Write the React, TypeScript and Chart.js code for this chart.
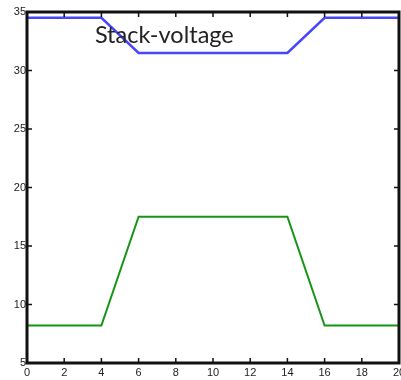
import React, { useEffect, useRef } from "react";
import { Chart, registerables } from "chart.js";

Chart.register(...registerables);

const xValues = [0, 4, 6, 14, 16, 20];
const stackVoltage = [34.5, 34.5, 31.5, 31.5, 34.5, 34.5];
const otherSeries = [8.2, 8.2, 17.5, 17.5, 8.2, 8.2];
const xTicks = [0, 2, 4, 6, 8, 10, 12, 14, 16, 18, 20];
const yTicks = [5, 10, 15, 20, 25, 30, 35];
const annotationText = "Stack-voltage";

const framePlugin = {
  id: "frame",
  afterDraw(chart: any) {
    const { ctx, chartArea: a, scales } = chart;
    ctx.save();
    ctx.strokeStyle = "#111";
    ctx.lineWidth = 1.5;
    const tl = 5;
    scales.x.ticks.forEach((t: any) => {
      const px = scales.x.getPixelForValue(t.value);
      ctx.beginPath();
      ctx.moveTo(px, a.bottom);
      ctx.lineTo(px, a.bottom - tl);
      ctx.moveTo(px, a.top);
      ctx.lineTo(px, a.top + tl);
      ctx.stroke();
    });
    scales.y.ticks.forEach((t: any) => {
      const py = scales.y.getPixelForValue(t.value);
      ctx.beginPath();
      ctx.moveTo(a.left, py);
      ctx.lineTo(a.left + tl, py);
      ctx.moveTo(a.right, py);
      ctx.lineTo(a.right - tl, py);
      ctx.stroke();
    });
    ctx.lineWidth = 3;
    ctx.strokeStyle = "#111";
    ctx.strokeRect(a.left, a.top, a.right - a.left, a.bottom - a.top);
    ctx.fillStyle = "#222";
    ctx.font = "23.5px Lato";
    ctx.textBaseline = "alphabetic";
    ctx.textAlign = "left";
    ctx.fillText(annotationText, scales.x.getPixelForValue(3.65), scales.y.getPixelForValue(32.35));
    ctx.restore();
  },
};

export default function App() {
  const ref = useRef<HTMLCanvasElement>(null);
  useEffect(() => {
    document.body.style.margin = "0";
    const chart = new Chart(ref.current!, {
      type: "line",
      data: {
        datasets: [
          {
            data: xValues.map((x, i) => ({ x, y: stackVoltage[i] })),
            borderColor: "rgb(70,70,255)",
            borderWidth: 2.5,
            pointRadius: 0,
            tension: 0,
          },
          {
            data: xValues.map((x, i) => ({ x, y: otherSeries[i] })),
            borderColor: "rgb(20,150,20)",
            borderWidth: 2,
            pointRadius: 0,
            tension: 0,
          },
        ],
      },
      options: {
        animation: false,
        responsive: false,
        layout: { padding: { left: 0, right: 2, top: 12, bottom: 0 } },
        plugins: { legend: { display: false }, tooltip: { enabled: false } },
        scales: {
          x: {
            type: "linear",
            min: 0,
            max: 20,
            afterBuildTicks: (s: any) => {
              s.ticks = xTicks.map((v) => ({ value: v }));
            },
            afterFit: (s: any) => {
              s.height = 17;
              s.paddingLeft = 0;
              s.paddingRight = 0;
            },
            grid: { display: false, drawTicks: false },
            border: { display: false },
            ticks: {
              padding: 3,
              maxRotation: 0,
              autoSkip: false,
              color: "#222",
              font: { family: "Liberation Sans", size: 11 },
            },
          },
          y: {
            min: 5,
            max: 35,
            afterBuildTicks: (s: any) => {
              s.ticks = yTicks.map((v) => ({ value: v }));
            },
            afterFit: (s: any) => {
              s.width = 27;
              s.paddingTop = 0;
              s.paddingBottom = 0;
            },
            grid: { display: false, drawTicks: false },
            border: { display: false },
            ticks: {
              padding: 1,
              color: "#222",
              font: { family: "Liberation Sans", size: 11 },
            },
          },
        },
      },
      plugins: [framePlugin],
    });
    return () => chart.destroy();
  }, []);
  return (
    <div style={{ width: 401, height: 380, background: "#fff" }}>
      <canvas ref={ref} width={401} height={380} />
    </div>
  );
}
